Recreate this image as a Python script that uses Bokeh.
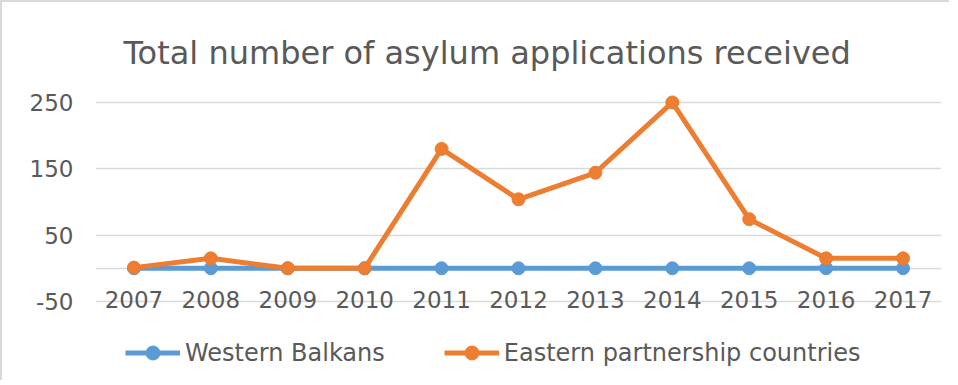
from bokeh.plotting import figure
from bokeh.models import FactorRange, Range1d, FixedTicker, Legend, LegendItem, NumeralTickFormatter
from bokeh.core.properties import value
from bokeh.embed import file_html
from bokeh.resources import INLINE

years = ["2007", "2008", "2009", "2010", "2011", "2012", "2013", "2014", "2015", "2016", "2017"]
western_balkans = [0, 0, 0, 0, 0, 0, 0, 0, 0, 0, 0]
eastern_partnership = [1, 15, 0, 0, 180, 104, 144, 250, 74, 15, 15]
y_ticks = [-50, 50, 150, 250]
grid_ticks = [-50, 0, 50, 150, 250]
label_row = [0] * len(years)

FONT = "DejaVu Sans"
TXT = "#595959"
GRID = "#d9d9d9"
BLUE = "#5b9bd5"
ORANGE = "#ed7d31"

p = figure(width=949, height=380, x_range=FactorRange(*years), y_range=Range1d(-169.2, 262),
           output_backend="svg", toolbar_location=None,
           min_border_left=93, min_border_right=10, min_border_top=92, min_border_bottom=2)
p.styles = {"border-left": "2px solid #d9d9d9", "border-top": "2px solid #d9d9d9"}
p.outline_line_color = None
p.background_fill_color = "white"
p.border_fill_color = "white"

p.title.text = "Total number of asylum applications received"
p.title.text_font = FONT
p.title.text_font_size = "32px"
p.title.text_font_style = "normal"
p.title.text_color = TXT
p.title.align = "left"
p.title.offset = 28
p.title.standoff = 45

# y axis
p.yaxis.ticker = FixedTicker(ticks=y_ticks)
p.yaxis.formatter = NumeralTickFormatter(format="0")
p.yaxis.axis_line_color = None
p.yaxis.major_tick_line_color = None
p.yaxis.minor_tick_line_color = None
p.yaxis.major_tick_out = 0
p.yaxis.major_label_standoff = 22
p.yaxis.major_label_text_font = FONT
p.yaxis.major_label_text_font_size = "23px"
p.yaxis.major_label_text_color = TXT

p.ygrid.ticker = FixedTicker(ticks=grid_ticks)
p.ygrid.grid_line_color = GRID
p.ygrid.grid_line_width = 1.5
p.xgrid.grid_line_color = None
p.xaxis.visible = False

# category labels sit just under the zero line (Excel style)
p.text(x=years, y=label_row, text=years, text_font=value(FONT), text_font_size="23px",
       text_color=TXT, text_align="center", text_baseline="middle", y_offset=31)

wl = p.line(years, western_balkans, line_color=BLUE, line_width=5)
ws = p.scatter(years, western_balkans, size=13, fill_color=BLUE, line_color=BLUE)
el = p.line(years, eastern_partnership, line_color=ORANGE, line_width=5)
es = p.scatter(years, eastern_partnership, size=13, fill_color=ORANGE, line_color=ORANGE)

legend = Legend(items=[LegendItem(label="Western Balkans", renderers=[wl, ws]),
                       LegendItem(label="Eastern partnership countries", renderers=[el, es])],
                location=(30, 10), orientation="horizontal")
legend.border_line_color = None
legend.background_fill_alpha = 0
legend.padding = 0
legend.margin = 0
legend.spacing = 59
legend.glyph_width = 55
legend.glyph_height = 35
legend.label_standoff = 5
legend.label_text_font = FONT
legend.label_text_font_size = "24px"
legend.label_text_color = TXT
legend.label_height = 20
p.add_layout(legend, "center")

open("out.html", "w").write(file_html(p, INLINE))
